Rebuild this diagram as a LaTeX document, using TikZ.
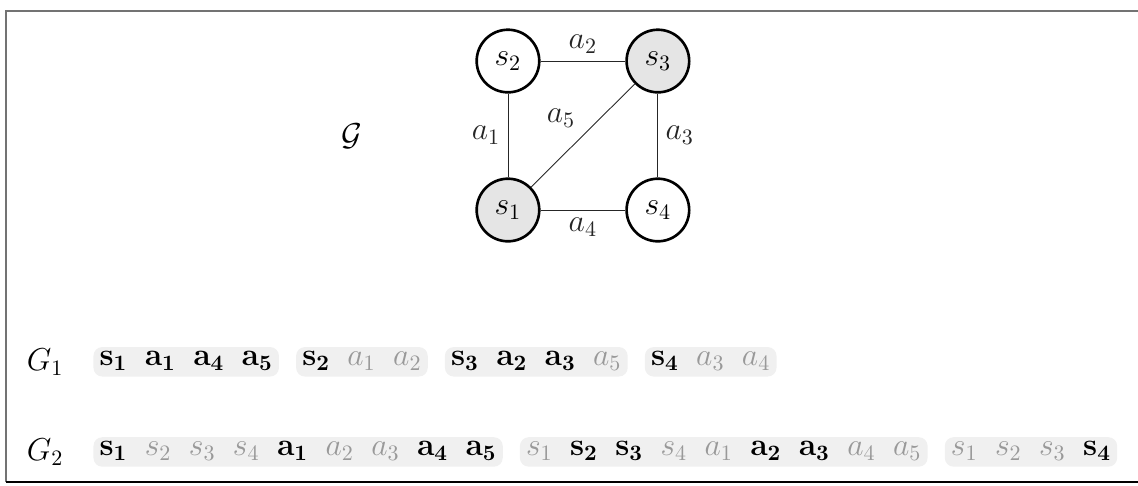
\documentclass[tikz,border=0pt]{standalone}
\usetikzlibrary{positioning}

\newcommand{\on}[1]{\mathbf{#1}}
\newcommand{\off}[1]{{\color{black!40}#1}}
\newcommand{\gp}{\hspace{7.9pt}}

\tikzset{
  state/.style={circle, draw, very thick, minimum size=1cm, inner sep=0pt},
  hl/.style={state, fill=gray!20},
  grp/.style={fill=gray!12, rounded corners=4pt, inner xsep=2.8pt, inner ysep=1.9pt,
    text height=6.6pt, text depth=3pt},
  arc/.style={thin, black!85}
}

\begin{document}
\begin{tikzpicture}[every node/.style={font=\Large}, node distance=0.26cm]
\useasboundingbox (0,0) rectangle (18.18,-7.764);

\draw[black!55, line width=0.9pt] (0.096,-7.70) -- (0.096,-0.176) -- (18.18,-0.176);
\draw[line width=1.2pt] (0.096,-7.70) -- (18.18,-7.70);

\node[hl] (s1) at (8.115,-3.355) {$s_1$};
\node[state] (s2) at (8.115,-0.975) {$s_2$};
\node[hl] (s3) at (10.51,-0.975) {$s_3$};
\node[state] (s4) at (10.51,-3.355) {$s_4$};
\node (cg) at (5.62,-2.17) {$\mathcal{G}$};

\draw[arc] (s1) -- node[left] {$a_1$} (s2);
\draw[arc] (s2) -- node[above] {$a_2$} (s3);
\draw[arc] (s3) -- node[right] {$a_3$} (s4);
\draw[arc] (s1) -- node[below] {$a_4$} (s4);
\draw[arc] (s1) -- node[above left] {$a_5$} (s3);

\node (g1) at (0.72,-5.78) {$G_1$};
\node[grp, anchor=west] (b11) at (1.486,-5.78) {$\on{s_1}\gp\on{a_1}\gp\on{a_4}\gp\on{a_5}$};
\node[grp, right=of b11] (b12) {$\on{s_2}\gp\off{a_1}\gp\off{a_2}$};
\node[grp, right=of b12] (b13) {$\on{s_3}\gp\on{a_2}\gp\on{a_3}\gp\off{a_5}$};
\node[grp, right=of b13] (b14) {$\on{s_4}\gp\off{a_3}\gp\off{a_4}$};

\node (g2) at (0.72,-7.22) {$G_2$};
\node[grp, anchor=west] (b21) at (1.486,-7.22) {$\on{s_1}\gp\off{s_2}\gp\off{s_3}\gp\off{s_4}\gp\on{a_1}\gp\off{a_2}\gp\off{a_3}\gp\on{a_4}\gp\on{a_5}$};
\node[grp, right=of b21] (b22) {$\off{s_1}\gp\on{s_2}\gp\on{s_3}\gp\off{s_4}\gp\off{a_1}\gp\on{a_2}\gp\on{a_3}\gp\off{a_4}\gp\off{a_5}$};
\node[grp, right=of b22] (b23) {$\off{s_1}\gp\off{s_2}\gp\off{s_3}\gp\on{s_4}$};
\end{tikzpicture}
\end{document}
